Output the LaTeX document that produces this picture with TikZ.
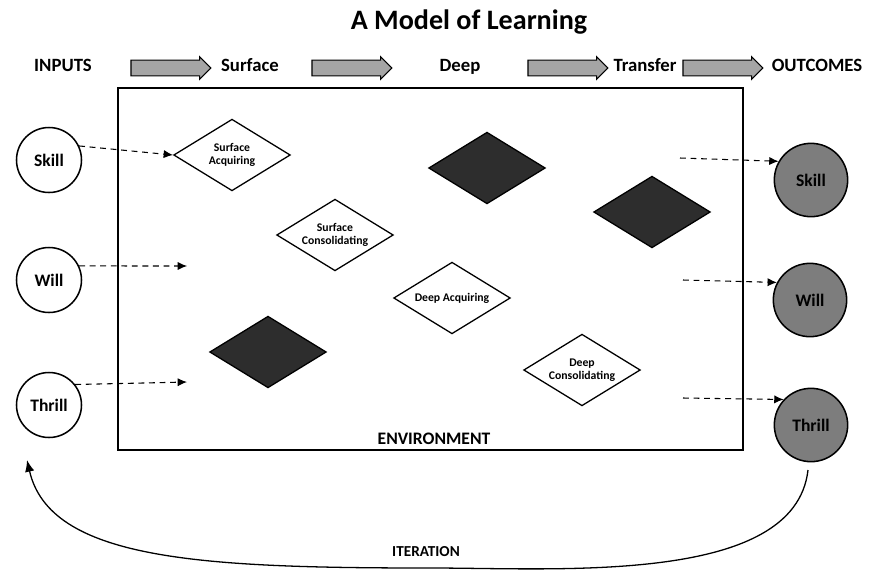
\documentclass[tikz,border=0pt]{standalone}
\usepackage{fontspec}
\setmainfont{Carlito}
\usetikzlibrary{shapes.geometric,shapes.arrows,arrows.meta}
\definecolor{darkfill}{RGB}{45,45,45}
\definecolor{midfill}{RGB}{125,125,125}
\definecolor{arrowfill}{RGB}{165,165,165}

\begin{document}
\begin{tikzpicture}[x=0.03cm, y=-0.03cm, line width=1.1pt,
    every node/.style={font=\bfseries},
    stage/.style={diamond, draw, aspect=1.6, inner sep=0pt, minimum width=3.5cm, minimum height=2.15cm, align=center, font=\bfseries\fontsize{10}{11}\selectfont},
    darkstage/.style={stage, fill=darkfill},
    learner/.style={circle, draw, line width=1.3pt, minimum size=1.95cm, font=\bfseries\fontsize{15}{17}\selectfont},
    outcome/.style={circle, draw, line width=1.3pt, fill=midfill, minimum size=2.2cm, font=\bfseries\fontsize{15}{17}\selectfont},
    flow/.style={single arrow, draw, fill=arrowfill, line width=0.9pt, minimum height=2.4cm, minimum width=0.68cm, inner xsep=0pt, inner ysep=0.22cm, single arrow head extend=0.1cm},
    heading/.style={font=\bfseries\fontsize{16}{18}\selectfont, text height=1.6ex, text depth=0.4ex},
    link/.style={dash pattern=on 5pt off 4pt, line width=0.9pt, -{Latex[length=8pt,width=7pt]}}
  ]
  \useasboundingbox (0,0) rectangle (884,578);

  % title and stage row
  \node[font=\bfseries\fontsize{24}{28}\selectfont] (title) at (469,22) {A Model of Learning};
  \node[heading] (inputs) at (63,68) {INPUTS};
  \node[flow] (f1) at (167,68) {};
  \node[heading] (surface) at (250,68) {Surface};
  \node[flow] (f2) at (348,68) {};
  \node[heading] (deep) at (460,68) {Deep};
  \node[flow] (f3) at (564,68) {};
  \node[heading] (transfer) at (645,68) {Transfer};
  \node[flow] (f4) at (719,68) {};
  \node[heading] (outcomes) at (817,68) {OUTCOMES};

  % environment box
  \draw (118,88) rectangle (743,450);
  \node[font=\bfseries\fontsize{15}{17}\selectfont] (env) at (434,439) {ENVIRONMENT};

  % inputs
  \node[learner] (skill) at (49,160) {Skill};
  \node[learner] (will) at (49,280) {Will};
  \node[learner] (thrill) at (49,405) {Thrill};

  % learning phases
  \node[stage] (sacq) at (232,155) {Surface\\Acquiring};
  \node[stage] (scon) at (335,235) {Surface\\Consolidating};
  \node[stage] (dacq) at (452,298) {Deep Acquiring};
  \node[stage] (dcon) at (582,370) {Deep\\Consolidating};
  \node[darkstage] (dark1) at (487,168) {};
  \node[darkstage] (dark2) at (652,212) {};
  \node[darkstage] (dark3) at (268,352) {};

  % outcomes
  \node[outcome] (oskill) at (811,180) {Skill};
  \node[outcome] (owill) at (810,300) {Will};
  \node[outcome] (othrill) at (811,425) {Thrill};

  % free ends of the dashed links
  \coordinate (win) at (187,266);
  \coordinate (tin) at (187,382);
  \coordinate (sout) at (680,158);
  \coordinate (wout) at (683,280);
  \coordinate (tout) at (683,398);

  \draw[link] (skill.25) -- (sacq.west);
  \draw[link] (will.25) -- (win);
  \draw[link] (thrill.38) -- (tin);
  \draw[link] (sout) -- (oskill.150);
  \draw[link] (wout) -- (owill.152);
  \draw[link] (tout) -- (othrill.137);

  % loop back to the inputs
  \coordinate (itstart) at (808,470);
  \coordinate (itend) at (27,460);
  \draw[-{Latex[length=10pt,width=8pt]}] (itstart) .. controls (795,585) and (560,568) .. (430,568)
    .. controls (200,568) and (50,560) .. (itend);
  \node[font=\bfseries\fontsize{13}{15}\selectfont] (iteration) at (426,552) {ITERATION};
\end{tikzpicture}
\end{document}
